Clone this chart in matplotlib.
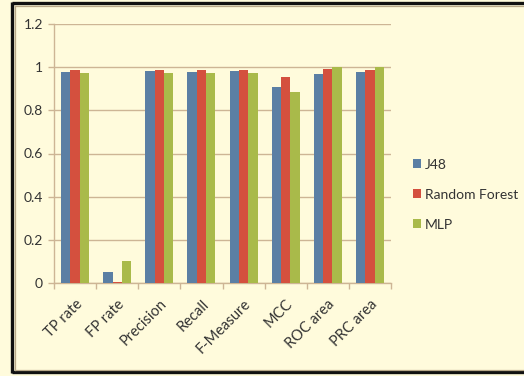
import numpy as np
import matplotlib.pyplot as plt

# ── Data ─────────────────────────────────────────────────────────────
metrics = ["TP rate", "FP rate", "Precision", "Recall",
           "F-Measure", "MCC", "ROC area", "PRC area"]
j48  = [0.978, 0.052, 0.983, 0.978, 0.983, 0.909, 0.968, 0.978]
rf   = [0.989, 0.006, 0.989, 0.989, 0.989, 0.955, 0.991, 0.985]
mlp  = [0.971, 0.102, 0.971, 0.971, 0.971, 0.886, 0.999, 0.999]
series = [("J48", j48), ("Random Forest", rf), ("MLP", mlp)]
colors = ["#5B7FA4", "#D4503E", "#A9BA4A"]

BG = "#FFFBDC"
GRID = "#CDB595"
plt.rcParams["font.family"] = ["Lato", "DejaVu Sans"]

fig = plt.figure(figsize=(5.24, 3.76), dpi=100, facecolor=BG)

# background axes in pixel units, used only for the outer frame
bg = fig.add_axes([0, 0, 1, 1], zorder=-1)
bg.set_xlim(0, 524)
bg.set_ylim(376, 0)
bg.set_facecolor(BG)
bg.axis("off")
bg.plot([12, 524], [3, 3], color="#111111", lw=2.4, solid_capstyle="butt")
bg.plot([12, 12], [2, 373], color="#111111", lw=2.4, solid_capstyle="butt")
bg.plot([12, 524], [372, 372], color="#111111", lw=2.4, solid_capstyle="butt")
bg.plot([14.5, 524], [5.5, 5.5], color="#B8A888", lw=0.9)
bg.plot([14.5, 14.5], [5.5, 369.5], color="#B8A888", lw=0.9)
bg.plot([14.5, 524], [369.5, 369.5], color="#B8A888", lw=0.9)

ax = fig.add_axes([54 / 524, 1 - 283 / 376, 337 / 524, 259 / 376])
ax.set_facecolor(BG)

x = np.arange(len(metrics))
w = 0.222
for i, ((name, vals), c) in enumerate(zip(series, colors)):
    ax.bar(x + (i - 1) * w, vals, width=w, color=c, label=name,
           edgecolor="none", zorder=3)

ax.set_xlim(-0.5, len(metrics) - 0.5)
ax.set_ylim(0, 1.2)
ax.set_yticks([0, 0.2, 0.4, 0.6, 0.8, 1.0, 1.2])
ax.set_yticklabels(["0", "0.2", "0.4", "0.6", "0.8", "1", "1.2"], fontsize=10,
                   color="#333333")
ax.yaxis.grid(True, color=GRID, linewidth=1, zorder=0)

ax.set_xticks(x)
ax.set_xticklabels(metrics, rotation=45, ha="right", rotation_mode="anchor",
                   fontsize=10.5, color="#333333")
ax.set_xticks(np.arange(-0.5, len(metrics)), minor=True)
ax.tick_params(axis="x", which="major", length=0, pad=10)
ax.tick_params(axis="x", which="minor", length=4, color=GRID, width=1)
ax.tick_params(axis="y", length=4, color=GRID, width=1, pad=4)

for s in ["top", "right"]:
    ax.spines[s].set_visible(False)
for s in ["left", "bottom"]:
    ax.spines[s].set_color(GRID)
    ax.spines[s].set_linewidth(1)

leg = fig.legend(loc="upper left", bbox_to_anchor=(400 / 524, 1 - 146 / 376),
                 frameon=False, fontsize=10, handlelength=0.6,
                 handleheight=0.6, handletextpad=0.3, labelspacing=1.3)
for t in leg.get_texts():
    t.set_color("#333333")

plt.savefig("out.png", dpi=100, facecolor=BG)
